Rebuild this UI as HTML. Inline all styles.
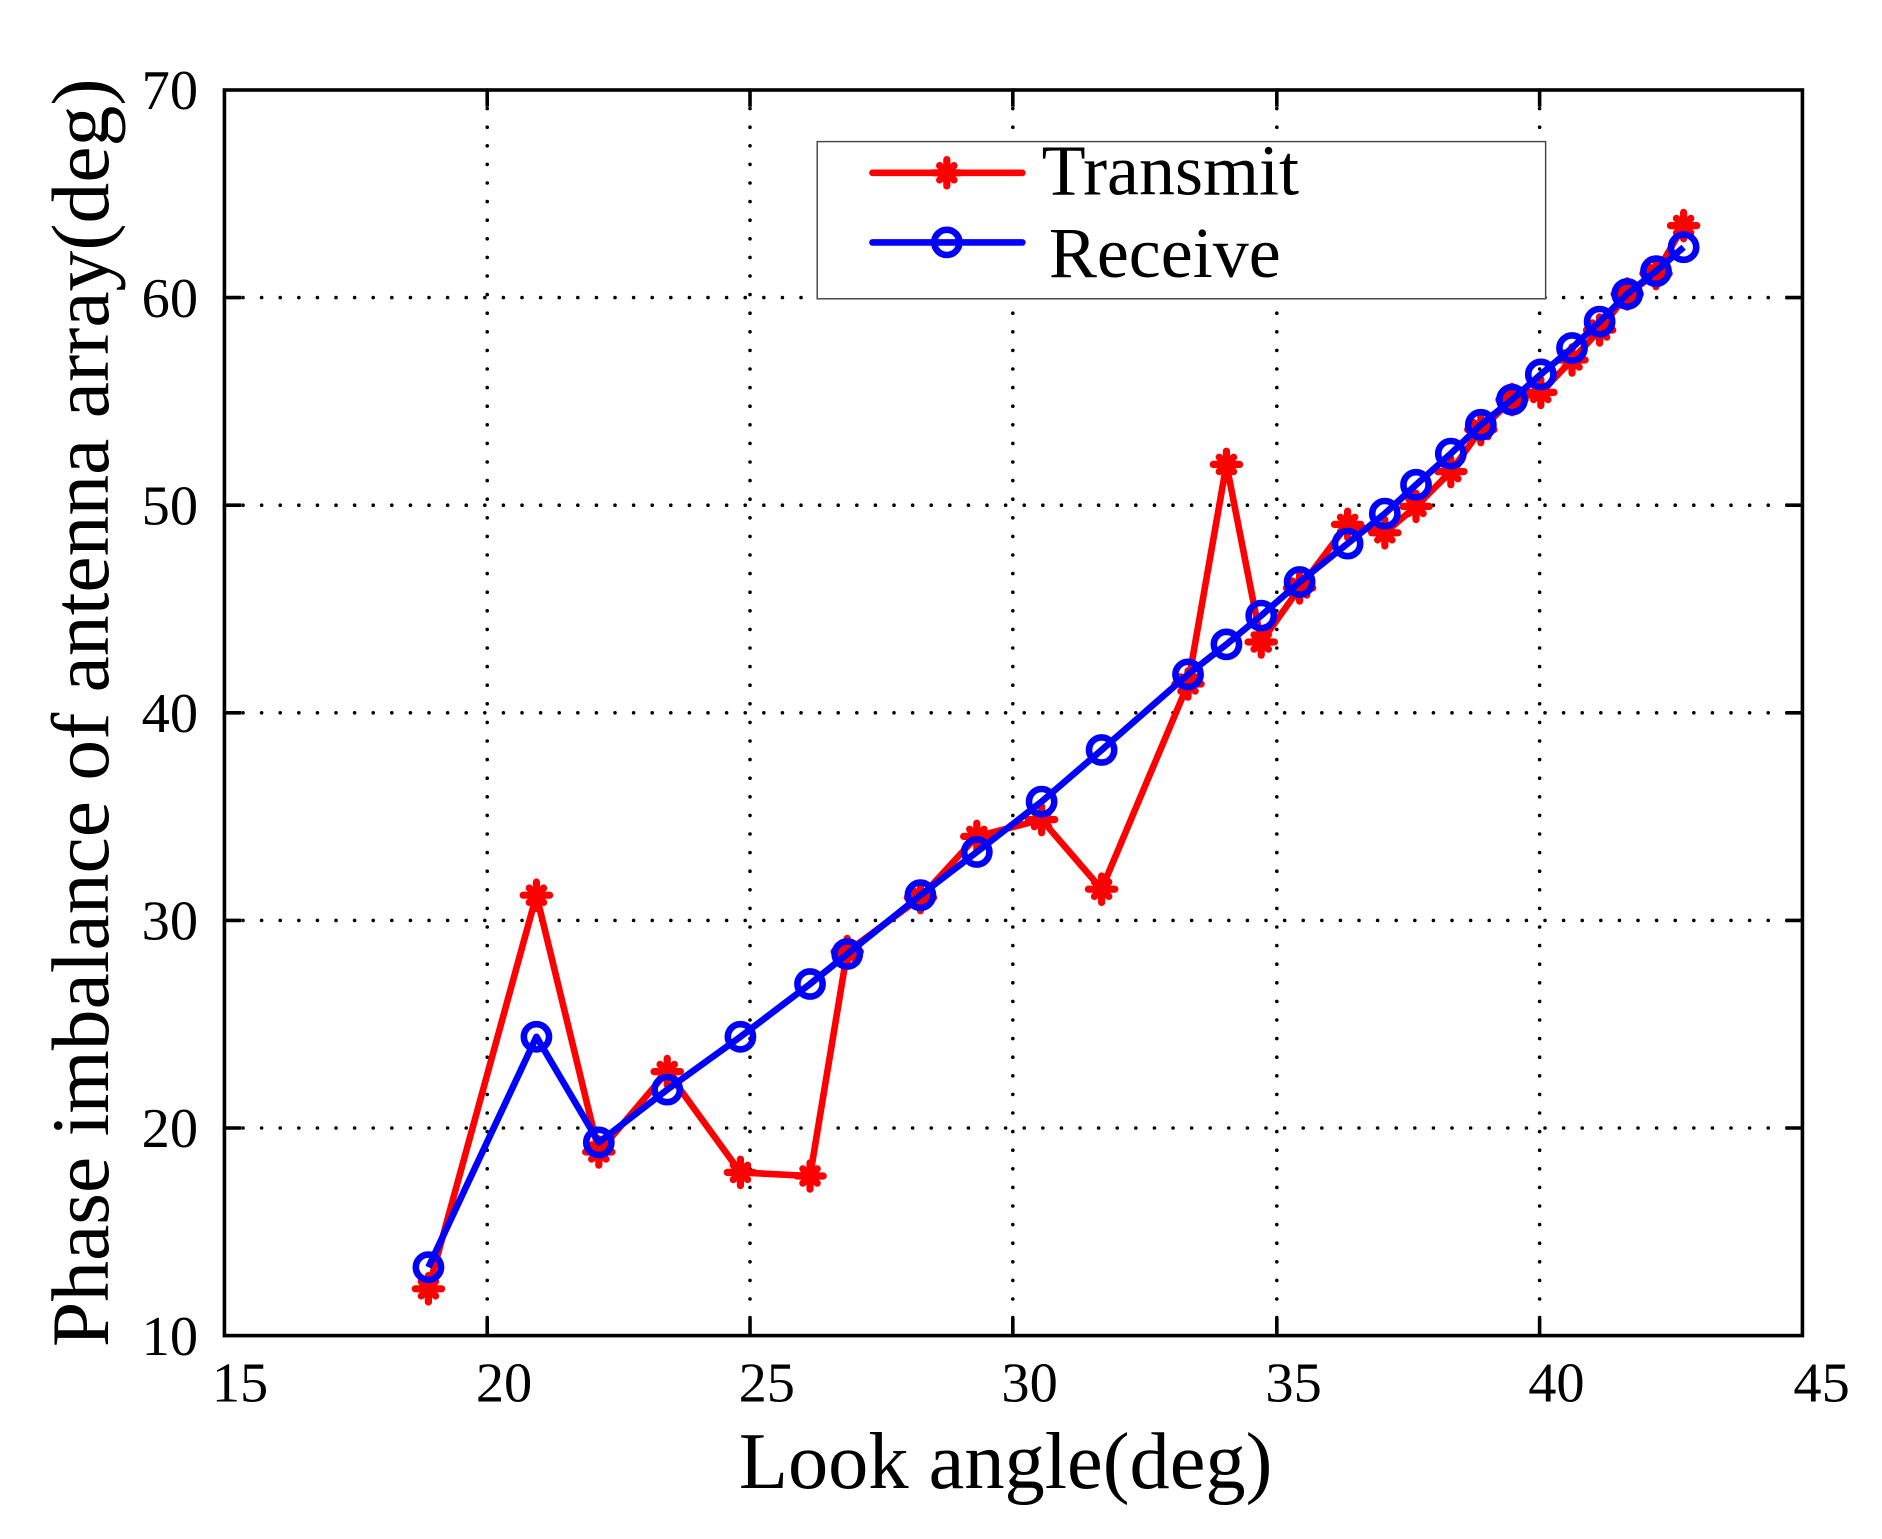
<!DOCTYPE html>
<html><head><meta charset="utf-8"><style>html,body{margin:0;padding:0;background:#fff}svg{display:block}</style></head>
<body>
<svg width="1882" height="1539" viewBox="0 0 1568.3 1282.5" xmlns="http://www.w3.org/2000/svg" font-family="'Liberation Serif',serif">
<defs>
<g id="tm"><path d="M-11,0H11M0,-11V11M-6,-6L6,6M-6,6L6,-6" stroke="#f00" stroke-width="6" stroke-linecap="round"/></g>
<circle id="rc" r="10.5" fill="none" stroke="#00f" stroke-width="5.5"/>
</defs>
<rect width="1568.3" height="1282.5" fill="#fff"/>
<g stroke="#000" stroke-width="3" stroke-linecap="round" stroke-dasharray="0 15.5" fill="none">
<path d="M406,75V1113M625,75V1113M844,75V1113M1064,75V1113M1283,75V1113"/>
<path d="M187,248H1502M187,421H1502M187,594H1502M187,767H1502M187,940H1502"/>
</g>
<g stroke="#000" stroke-width="3">
<path d="M406,1113v-14M625,1113v-14M844,1113v-14M1064,1113v-14M1283,1113v-14M406,75v14M625,75v14M844,75v14M1064,75v14M1283,75v14"/>
<path d="M187,248h14M187,421h14M187,594h14M187,767h14M187,940h14M1502,248h-14M1502,421h-14M1502,594h-14M1502,767h-14M1502,940h-14"/>
</g>
<rect x="187" y="75" width="1315" height="1038" fill="none" stroke="#000" stroke-width="3"/>
<g font-size="47" text-anchor="end">
<text x="165" y="1129">10</text><text x="165" y="956">20</text><text x="165" y="783">30</text><text x="165" y="610">40</text><text x="165" y="437">50</text><text x="165" y="264">60</text><text x="165" y="91">70</text>
</g>
<g font-size="47" text-anchor="middle">
<text x="200" y="1168">15</text><text x="420" y="1168">20</text><text x="639" y="1168">25</text><text x="858" y="1168">30</text><text x="1078" y="1168">35</text><text x="1297" y="1168">40</text><text x="1518" y="1168">45</text>
</g>
<text x="838" y="1240" font-size="67" text-anchor="middle">Look angle(deg)</text>
<text transform="translate(90,594) rotate(-90)" font-size="68" text-anchor="middle">Phase imbalance of antenna array(deg)</text>
<polyline fill="none" stroke="#f00" stroke-width="5.5" stroke-linejoin="round" points="357,1074 447,746 499,960 556,893 617,977 675,980 706,793 767,748 814,697 868,683 918,741 990,570 1022,387 1051,535 1083,490 1123,437 1154,444 1180,422 1209,393 1234,358 1260,333 1284,327 1310,300 1333,275 1356,245 1380,228 1403,188"/>
<g>
<use href="#tm" x="357" y="1074"/><use href="#tm" x="447" y="746"/><use href="#tm" x="499" y="960"/><use href="#tm" x="556" y="893"/><use href="#tm" x="617" y="977"/><use href="#tm" x="675" y="980"/><use href="#tm" x="706" y="793"/><use href="#tm" x="767" y="748"/><use href="#tm" x="814" y="697"/><use href="#tm" x="868" y="683"/><use href="#tm" x="918" y="741"/><use href="#tm" x="990" y="570"/><use href="#tm" x="1022" y="387"/><use href="#tm" x="1051" y="535"/><use href="#tm" x="1083" y="490"/><use href="#tm" x="1123" y="437"/><use href="#tm" x="1154" y="444"/><use href="#tm" x="1180" y="422"/><use href="#tm" x="1209" y="393"/><use href="#tm" x="1234" y="358"/><use href="#tm" x="1260" y="333"/><use href="#tm" x="1284" y="327"/><use href="#tm" x="1310" y="300"/><use href="#tm" x="1333" y="275"/><use href="#tm" x="1356" y="245"/><use href="#tm" x="1380" y="228"/><use href="#tm" x="1403" y="188"/>
</g>
<polyline fill="none" stroke="#00f" stroke-width="5.5" stroke-linejoin="round" points="357,1056 447,864 499,952 556,908 617,864 675,820 706,795 767,746 814,710 868,668 918,625 990,562 1022,537 1051,513 1083,485 1123,453 1154,428 1180,404 1209,378 1234,354 1260,333 1284,312 1310,290 1333,268 1356,245 1380,226 1403,206"/>
<g>
<use href="#rc" x="357" y="1056"/><use href="#rc" x="447" y="864"/><use href="#rc" x="499" y="952"/><use href="#rc" x="556" y="908"/><use href="#rc" x="617" y="864"/><use href="#rc" x="675" y="820"/><use href="#rc" x="706" y="795"/><use href="#rc" x="767" y="746"/><use href="#rc" x="814" y="710"/><use href="#rc" x="868" y="668"/><use href="#rc" x="918" y="625"/><use href="#rc" x="990" y="562"/><use href="#rc" x="1022" y="537"/><use href="#rc" x="1051" y="513"/><use href="#rc" x="1083" y="485"/><use href="#rc" x="1123" y="453"/><use href="#rc" x="1154" y="428"/><use href="#rc" x="1180" y="404"/><use href="#rc" x="1209" y="378"/><use href="#rc" x="1234" y="354"/><use href="#rc" x="1260" y="333"/><use href="#rc" x="1284" y="312"/><use href="#rc" x="1310" y="290"/><use href="#rc" x="1333" y="268"/><use href="#rc" x="1356" y="245"/><use href="#rc" x="1380" y="226"/><use href="#rc" x="1403" y="206"/>
</g>
<rect x="681" y="118" width="607" height="131" fill="#fff" stroke="#444" stroke-width="1.2"/>
<path d="M727,144H852" stroke="#f00" stroke-width="5.5" stroke-linecap="round"/>
<use href="#tm" x="789" y="144"/>
<path d="M727,202H852" stroke="#00f" stroke-width="5.5" stroke-linecap="round"/>
<use href="#rc" x="789" y="202"/>
<text x="868" y="162" font-size="60">Transmit</text>
<text x="874" y="231" font-size="60">Receive</text>
</svg>
</body></html>
